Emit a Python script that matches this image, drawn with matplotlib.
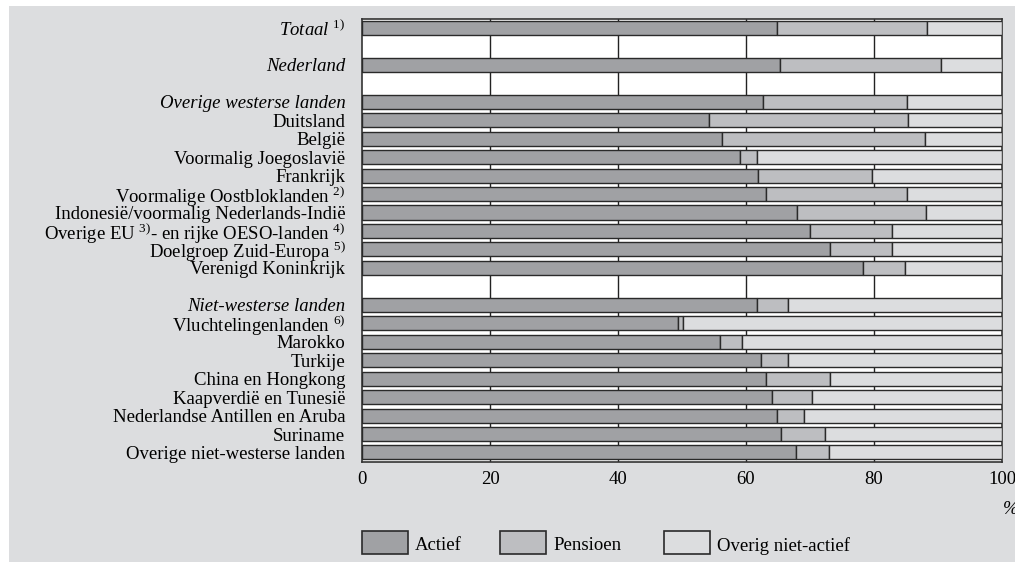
import numpy as np
import matplotlib
matplotlib.use("Agg")
import matplotlib.pyplot as plt
from matplotlib.patches import Rectangle

plt.rcParams['font.family'] = ['Liberation Serif', 'DejaVu Serif']
plt.rcParams['mathtext.fontset'] = 'custom'
plt.rcParams['mathtext.rm'] = 'Liberation Serif'
plt.rcParams['mathtext.it'] = 'Liberation Serif:italic'

# categories, top to bottom ("" = empty row)
labels = ["Totaal $^{\\mathrm{1)}}$", "", "Nederland", "",
          "Overige westerse landen", "Duitsland", "België",
          "Voormalig Joegoslavië", "Frankrijk",
          "Voormalige Oostbloklanden $^{\\mathrm{2)}}$",
          "Indonesië/voormalig Nederlands-Indië",
          "Overige EU $^{\\mathrm{3)}}$- en rijke OESO-landen $^{\\mathrm{4)}}$",
          "Doelgroep Zuid-Europa $^{\\mathrm{5)}}$",
          "Verenigd Koninkrijk", "",
          "Niet-westerse landen", "Vluchtelingenlanden $^{\\mathrm{6)}}$",
          "Marokko", "Turkije", "China en Hongkong", "Kaapverdië en Tunesië",
          "Nederlandse Antillen en Aruba", "Suriname",
          "Overige niet-westerse landen"]
italic_rows = [0, 2, 4, 15]

actief = [64.8, None, 65.3, None, 62.6, 54.2, 56.2, 59.1, 61.9, 63.1, 68.0, 70.0,
          73.1, 78.3, None, 61.7, 49.3, 55.9, 62.4, 63.2, 64.1, 64.8, 65.5, 67.8]
pensioen = [23.5, None, 25.1, None, 22.5, 31.1, 31.8, 2.6, 17.8, 22.0, 20.1, 12.8,
            9.7, 6.5, None, 4.8, 0.9, 3.5, 4.2, 9.9, 6.2, 4.3, 6.9, 5.2]

series_names = ["Actief", "Pensioen", "Overig niet-actief"]
colors = ["#a0a1a4", "#bdbec1", "#dcdddf"]
bg = "#dcdddf"

fig = plt.figure(figsize=(10.15, 5.62), dpi=100, facecolor="white")
fig.patches.append(Rectangle((9 / 1015, 0), 1, 1 - 6 / 562, transform=fig.transFigure,
                             facecolor=bg, edgecolor="none", zorder=-10))
ax = fig.add_axes([362 / 1015, 1 - 461.7 / 562, 640 / 1015, 443 / 562])
ax.set_zorder(1)
ax.set_facecolor("white")

n = len(labels)
y = np.arange(n)
for i in range(n):
    if actief[i] is None:
        continue
    a = actief[i]
    p = pensioen[i]
    o = 100 - a - p
    ax.barh(y[i], a, height=0.76, color=colors[0], edgecolor="#2a2a2a", linewidth=1, zorder=3)
    ax.barh(y[i], p, left=a, height=0.76, color=colors[1], edgecolor="#2a2a2a", linewidth=1, zorder=3)
    ax.barh(y[i], o, left=a + p, height=0.76, color=colors[2], edgecolor="#2a2a2a", linewidth=1, zorder=3)

for gx in [20, 40, 60, 80]:
    ax.axvline(gx, color="#222222", linewidth=1, zorder=1)

ax.set_xlim(0, 100)
ax.set_ylim(n - 0.5, -0.5)
ax.set_yticks(y)
ax.set_yticklabels(labels, fontsize=13.5)
for i in italic_rows:
    ax.get_yticklabels()[i].set_style("italic")
ax.set_xticks([0, 20, 40, 60, 80, 100])
ax.set_xticklabels(["0", "20", "40", "60", "80", "100"], fontsize=13.5)
ax.tick_params(axis="both", length=0)
ax.tick_params(axis="y", pad=12)
ax.tick_params(axis="x", pad=7)
for s in ax.spines.values():
    s.set_color("#333333")
    s.set_linewidth(1.2)

fig.text(1003 / 1015, 1 - 510 / 562, "%", fontsize=13.5, style="italic", va="center", ha="left")

# legend
leg_x = [362, 500, 664]
for k in range(3):
    x0 = leg_x[k]
    fig.patches.append(Rectangle((x0 / 1015, 1 - 554 / 562), 46 / 1015, 23 / 562,
                                 transform=fig.transFigure, facecolor=colors[k],
                                 edgecolor="#2a2a2a", linewidth=1.2))
    fig.text((x0 + 53) / 1015, 1 - 546 / 562, series_names[k], fontsize=13.5,
             va="center", ha="left")

fig.savefig("out.png", dpi=100, facecolor="white")
